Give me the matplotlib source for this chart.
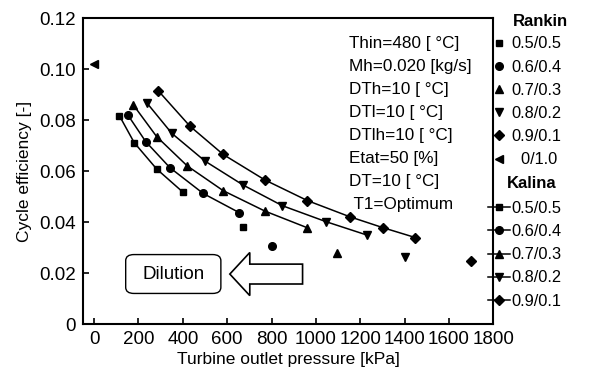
import matplotlib

matplotlib.use("Agg")
import matplotlib.pyplot as plt
from matplotlib.patches import FancyArrow, FancyBboxPatch

plt.rcParams["font.family"] = ["Liberation Sans", "DejaVu Sans"]

# Kalina cycle curves (pressure kPa, efficiency)
kal_labels = ["0.5/0.5", "0.6/0.4", "0.7/0.3", "0.8/0.2", "0.9/0.1"]
kal_markers = ["s", "o", "^", "v", "D"]
kal_p = [
    [114, 181, 282, 402],
    [152, 233, 342, 492, 654],
    [177, 282, 420, 582, 770, 960],
    [237, 350, 500, 672, 849, 1047, 1230],
    [289, 432, 582, 770, 962, 1152, 1302, 1449],
]
kal_eff = [
    [0.0817, 0.0711, 0.0608, 0.0516],
    [0.0820, 0.0715, 0.0613, 0.0512, 0.0437],
    [0.0859, 0.0735, 0.0620, 0.0523, 0.0443, 0.0378],
    [0.0868, 0.0748, 0.0639, 0.0545, 0.0464, 0.0401, 0.0349],
    [0.0915, 0.0776, 0.0665, 0.0565, 0.0484, 0.0421, 0.0378, 0.0339],
]

# Rankine single points
ran_labels = ["0.5/0.5", "0.6/0.4", "0.7/0.3", "0.8/0.2", "0.9/0.1", "  0/1.0"]
ran_markers = ["s", "o", "^", "v", "D", "<"]
ran_p = [672, 802, 1096, 1401, 1700, 0]
ran_eff = [0.0382, 0.0306, 0.0278, 0.0264, 0.0247, 0.1018]

conditions = ("Thin=480 [ °C]\nMh=0.020 [kg/s]\nDTh=10 [ °C]\nDTl=10 [ °C]\n"
              "DTlh=10 [ °C]\nEtat=50 [%]\nDT=10 [ °C]\n T1=Optimum")

fig = plt.figure(figsize=(6.06, 3.79), dpi=100)
ax = fig.add_axes([0.137, 0.145, 0.677, 0.8075])

ms = {"s": 5, "o": 5.5, "^": 6, "v": 6, "D": 5, "<": 5.5}
kal_handles = []
for p, e, m, lab in zip(kal_p, kal_eff, kal_markers, kal_labels):
    h, = ax.plot(p, e, "-", marker=m, color="black", lw=1.1, ms=ms[m], label=lab)
    kal_handles.append(h)
ran_handles = []
for p, e, m, lab in zip(ran_p, ran_eff, ran_markers, ran_labels):
    h, = ax.plot([p], [e], linestyle="none", marker=m, color="black", ms=ms[m], label=lab)
    ran_handles.append(h)

ax.set_xlim(-50, 1800)
ax.set_ylim(0, 0.12)
ax.set_xticks(range(0, 1801, 200))
ax.set_yticks([0, 0.02, 0.04, 0.06, 0.08, 0.10, 0.12])
ax.set_yticklabels(["0", "0.02", "0.04", "0.06", "0.08", "0.10", "0.12"])
ax.tick_params(direction="in", labelsize=13.5, length=4, width=1.2, pad=5)
for s in ax.spines.values():
    s.set_linewidth(1.5)
ax.set_xlabel("Turbine outlet pressure [kPa]", fontsize=12.5, labelpad=3)
ax.set_ylabel("Cycle efficiency [-]", fontsize=12.5, labelpad=5)

ax.text(0.649, 0.94, conditions, transform=ax.transAxes, ha="left", va="top",
        fontsize=12.3, linespacing=1.66)

# Dilution box and hollow arrow
box = FancyBboxPatch((0.104, 0.100), 0.232, 0.127, transform=ax.transAxes,
                     boxstyle="round,pad=0,rounding_size=0.02", fc="white", ec="black", lw=1)
ax.add_patch(box)
ax.text(0.220, 0.163, "Dilution", transform=ax.transAxes, ha="center", va="center", fontsize=13.5)
ax.add_patch(FancyArrow(940, 0.0196, -328, 0, width=0.0078, head_width=0.0169,
                        head_length=90, length_includes_head=True,
                        fc="white", ec="black", lw=1.2))

fig.text(0.846, 0.942, "Rankin", fontsize=12, fontweight="bold", ha="left", va="center")
fig.text(0.836, 0.517, "Kalina", fontsize=12, fontweight="bold", ha="left", va="center")
fig.legend(handles=ran_handles, loc="upper left", bbox_to_anchor=(0.812, 0.904),
           frameon=False, fontsize=11.8, handlelength=0.9, handletextpad=0.3,
           labelspacing=0.5, borderaxespad=0, borderpad=0)
fig.legend(handles=kal_handles, loc="upper left", bbox_to_anchor=(0.806, 0.47),
           frameon=False, fontsize=11.8, handlelength=1.3, handletextpad=0.1,
           labelspacing=0.5, borderaxespad=0, borderpad=0)

fig.savefig("out.png", dpi=100)
